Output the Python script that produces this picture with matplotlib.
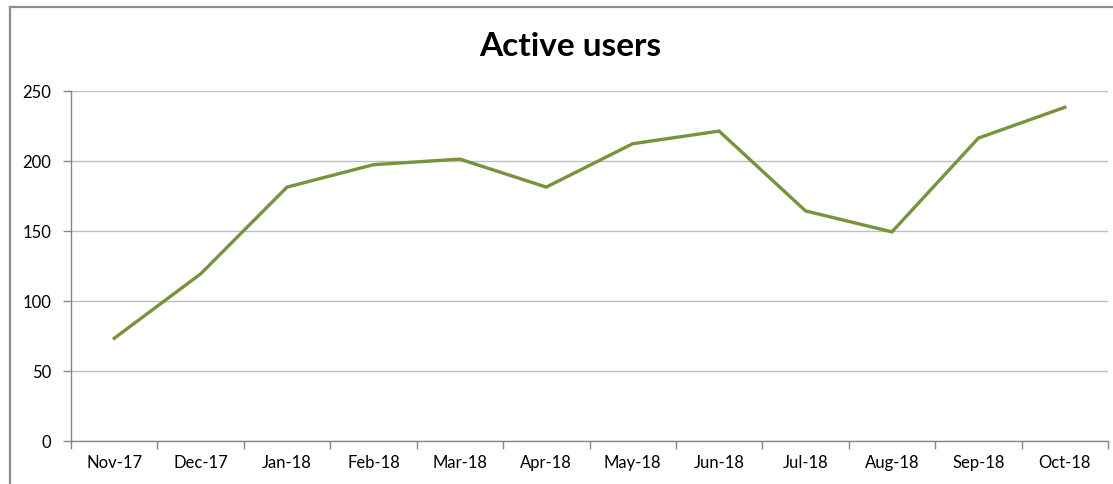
import matplotlib
matplotlib.use("Agg")
import matplotlib.pyplot as plt
from matplotlib.lines import Line2D

# data
months = ["Nov-17", "Dec-17", "Jan-18", "Feb-18", "Mar-18", "Apr-18",
          "May-18", "Jun-18", "Jul-18", "Aug-18", "Sep-18", "Oct-18"]
users = [73, 119, 181, 197, 201, 181, 212, 221, 164, 149, 216, 238]
yticks = [0, 50, 100, 150, 200, 250]

plt.rcParams['font.family'] = ['Lato', 'DejaVu Sans']

W, H = 1113, 485
fig = plt.figure(figsize=(W / 100, H / 100), dpi=100)
ax = fig.add_axes([71 / W, 1 - 441.5 / H, (1108 - 71) / W, (441.5 - 91.5) / H])

x = list(range(len(months)))
ax.plot(x, users, color="#77933C", lw=2.4, solid_joinstyle="miter", zorder=3)

ax.set_xlim(-0.5, len(months) - 0.5)
ax.set_ylim(0, 250)
ax.set_yticks(yticks)
ax.set_xticks(x)
ax.set_xticklabels(months)
# category boundary ticks
ax.set_xticks([i - 0.5 for i in range(len(months) + 1)], minor=True)
ax.tick_params(axis="x", which="major", length=0, pad=10, labelsize=12)
ax.tick_params(axis="x", which="minor", length=6, color="#868686", width=1)
ax.tick_params(axis="y", length=6, color="#868686", width=1, pad=8, labelsize=12)

ax.grid(axis="y", color="#bfbfbf", lw=1)
ax.set_axisbelow(True)
for s in ["top", "right"]:
    ax.spines[s].set_visible(False)
for s in ["left", "bottom"]:
    ax.spines[s].set_color("#868686")
    ax.spines[s].set_linewidth(1)

fig.text(570 / W, 1 - 46 / H, "Active users", ha="center", va="center",
         fontsize=24, fontweight="bold")

# chart area border (top and left visible in the reference)
fig.add_artist(Line2D([9.5 / W, 1], [1 - 8 / H, 1 - 8 / H], color="#8c8c8c", lw=1.6,
                      transform=fig.transFigure))
fig.add_artist(Line2D([9.5 / W, 9.5 / W], [0, 1 - 8 / H], color="#8c8c8c", lw=1.6,
                      transform=fig.transFigure))

fig.savefig("out.png", dpi=100)
